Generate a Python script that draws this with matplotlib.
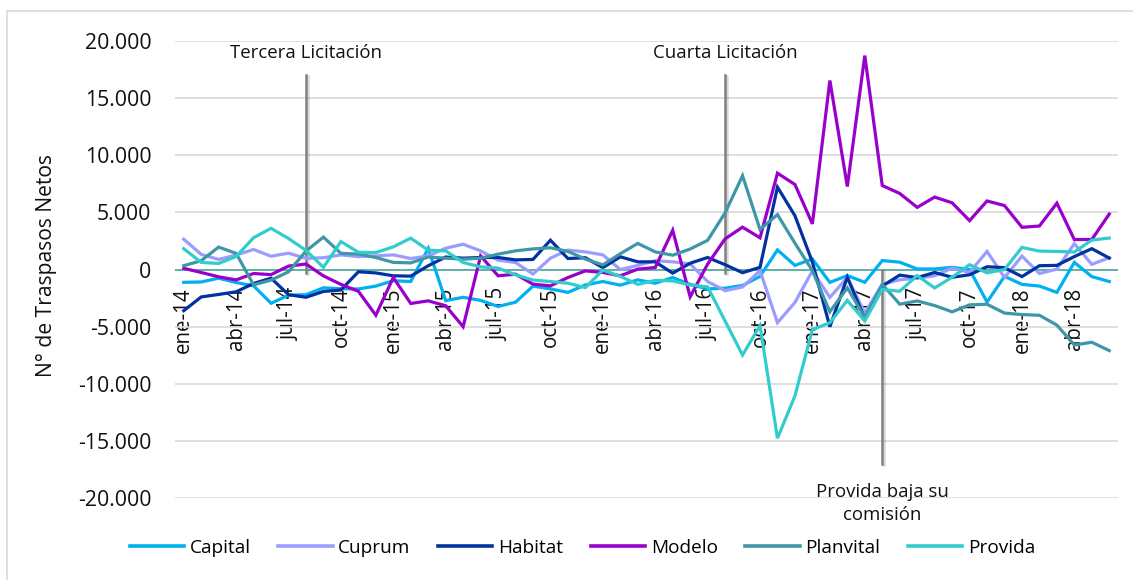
import matplotlib
matplotlib.use("Agg")
import matplotlib.pyplot as plt
import matplotlib.patheffects as pe
from matplotlib.patches import Rectangle
from matplotlib.lines import Line2D

plt.rcParams['font.family'] = ['Open Sans', 'DejaVu Sans']

# meses ene-14 .. jun-18
meses_abr = ['ene', 'feb', 'mar', 'abr', 'may', 'jun', 'jul', 'ago', 'sep', 'oct', 'nov', 'dic']
anios = ['14', '15', '16', '17', '18']
meses = [m + '-' + a for a in anios for m in meses_abr][:54]

capital = [-1120, -1090, -760, -1140, -1430, -2950, -2250, -2200, -1600, -1680,
           -1700, -1450, -980, -1050, 1850, -2720, -2430, -2700, -3230, -2860,
           -1450, -1700, -2000, -1350, -1050, -1370, -900, -1200, -700, -1300,
           -1700, -1630, -1400, -600, 1710, 360, 920, -1130, -530, -1120,
           780, 640, 50, 50, 190, 0, -2850, -600, -1300, -1450,
           -2000, 620, -620, -1050]
cuprum = [2650, 1320, 880, 1260, 1750, 1160, 1430, 970, 1030, 1280,
          1130, 1190, 1280, 960, 1190, 1860, 2210, 1630, 815, 610,
          -400, 990, 1700, 1540, 1280, 0, 350, 770, 670, 490,
          -1050, -1850, -1530, -100, -4650, -2880, -120, -2440, -700, -3800,
          -1280, -900, -760, -550, 120, -260, 1580, -700, 1170, -350,
          30, 2260, 450, 1030]
habitat = [-3600, -2400, -2180, -1950, -1220, -760, -2200, -2430, -1920, -1790,
           -200, -300, -550, -580, 330, 1090, 990, 1050, 1050, 840,
           880, 2560, 960, 1030, 160, 1110, 670, 670, -320, 550,
           1050, 420, -280, 190, 7200, 4700, 650, -5000, -680, -4300,
           -1450, -490, -710, -260, -680, -460, 240, 160, -620, 330,
           360, 1130, 1820, 1000]
modelo = [100, -260, -640, -910, -350, -450, 300, 480, -560, -1300,
          -1900, -4000, -700, -2970, -2740, -3170, -5000, 1190, -550, -410,
          -1280, -1430, -700, -120, -260, -550, 30, 175, 3430, -2390,
          470, 2680, 3700, 2770, 8420, 7430, 3990, 16520, 7250, 18700,
          7340, 6650, 5430, 6330, 5830, 4270, 5990, 5590, 3690, 3800,
          5800, 2620, 2620, 4850]
planvital = [330, 770, 1960, 1410, -1340, -930, -200, 1610, 2830, 1410,
             1350, 1050, 620, 580, 1090, 990, 900, 990, 1340, 1630,
             1800, 1900, 1580, 910, 400, 1380, 2280, 1540, 1250, 1790,
             2550, 4950, 8200, 3500, 4800, 2300, -100, -3700, -1600, -4200,
             -1300, -3030, -2750, -3150, -3700, -3090, -3040, -3810, -3940, -4000,
             -4860, -6600, -6360, -7090]
provida = [1820, 620, 530, 1130, 2780, 3600, 2710, 1670, 190, 2440,
           1510, 1480, 1980, 2740, 1690, 1630, 610, 230, 120, -470,
           -920, -1050, -1200, -1580, -50, -600, -1300, -950, -1000, -1350,
           -1520, -4500, -7480, -4900, -14750, -11050, -5250, -4650, -2700, -4500,
           -1750, -1900, -530, -1610, -680, 420, -290, 0, 1930, 1610,
           1580, 1530, 2570, 2750]

series = {
    'Capital': (capital, '#00B0F0'),
    'Cuprum': (cuprum, '#9C9CFF'),
    'Habitat': (habitat, '#0033A0'),
    'Modelo': (modelo, '#9900CC'),
    'Planvital': (planvital, '#3E97A8'),
    'Provida': (provida, '#33CCCC'),
}

y_ticks = [-20000, -15000, -10000, -5000, 0, 5000, 10000, 15000, 20000]
y_labels = ['-20.000', '-15.000', '-10.000', '-5.000', '0', '5.000', '10.000', '15.000', '20.000']

# eventos: (posicion en meses, texto)
eventos = [(7, 'Tercera Licitación'), (31, 'Cuarta Licitación')]
evento_provida = (40, 'Provida baja su\ncomisión')

fig = plt.figure(figsize=(11.33, 5.8), dpi=100)
ax = fig.add_axes([175 / 1133, 81.7 / 580, 943 / 1133, 457.6 / 580])

x = list(range(len(meses)))
handles = []
for name, (vals, col) in series.items():
    ax.plot(x, vals, color=col, linewidth=2.3, zorder=3, solid_joinstyle='miter')
    handles.append(Line2D([], [], color=col, linewidth=2.6, label=name))

ax.set_xlim(-0.5, len(meses) - 0.5)
ax.set_ylim(-20000, 20000)
ax.set_yticks(y_ticks)
ax.set_yticklabels(y_labels)
ax.set_xticks(x[::3])
ax.set_xticklabels(meses[::3])

ax.grid(axis='y', color='#D9D9D9', linewidth=1.2, zorder=0)
ax.set_axisbelow(True)
for s in ['top', 'right', 'left']:
    ax.spines[s].set_visible(False)
ax.spines['bottom'].set_position(('data', 0))
ax.spines['bottom'].set_color('none')
ax.axhline(0, color='#62AFA8', linewidth=1.4, zorder=2)

ax.tick_params(axis='both', length=0, labelcolor='#111111')
ax.tick_params(axis='y', pad=17, labelsize=15.3)
ax.tick_params(axis='x', pad=13, labelsize=14.8, labelrotation=90)
for lab in ax.get_xticklabels():
    lab.set_horizontalalignment('center')
    lab.set_verticalalignment('top')

ax.set_ylabel('N° de Traspasos Netos', fontsize=15.2, color='#111111')
ax.yaxis.set_label_coords(-0.125, 0.508)

# lineas de eventos
sombra = [pe.SimpleLineShadow(offset=(1.5, -1), shadow_color='#000000', alpha=0.15), pe.Normal()]
for pos, texto in eventos:
    ax.plot([pos, pos], [17000, -300], color='#808080', linewidth=1.8, zorder=2.5,
            path_effects=sombra)
    ax.text(pos, 18950, texto, ha='center', va='center', fontsize=13.4, color='#111111')

pos, texto = evento_provida
ax.plot([pos, pos], [0, -17000], color='#808080', linewidth=1.8, zorder=2.5,
        path_effects=sombra)
ax.text(pos, -20450, texto, ha='center', va='center', fontsize=13.4, color='#111111',
        linespacing=1.35, clip_on=False)

fig.legend(handles=handles, loc='center', bbox_to_anchor=(0.514, 0.055), ncol=6,
           frameon=False, handlelength=2.85, handletextpad=0.3, columnspacing=1.45,
           fontsize=13.7)

fig.patches.append(Rectangle((7 / 1133, -0.05), 1.2, (569 / 580) + 0.05,
                             transform=fig.transFigure, fill=False,
                             edgecolor='#D9D9D9', linewidth=1.2))

fig.savefig('out.png', dpi=100)
